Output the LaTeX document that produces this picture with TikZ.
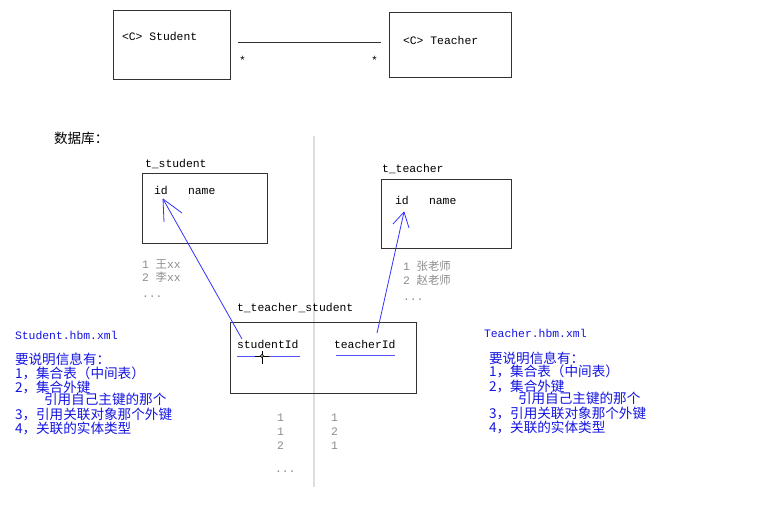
\documentclass[tikz,border=0pt]{standalone}
\usepackage{fontspec}
\usetikzlibrary{calc}
\setmainfont{Liberation Mono}
\newfontfamily\cjk{Noto Sans CJK SC}
\definecolor{boxgray}{RGB}{50,50,50}
\definecolor{sepgray}{RGB}{222,222,222}
\definecolor{rowgray}{RGB}{140,140,140}
\definecolor{arrowblue}{RGB}{50,50,255}
\definecolor{txtblue}{RGB}{20,20,225}
\begin{document}
\begin{tikzpicture}[x=1pt,y=-1pt,
  every node/.style={inner sep=0pt, outer sep=0pt, anchor=base west},
  lat/.style={font=\fontsize{11.4}{13}\selectfont},
  cjt/.style={font=\cjk\fontsize{13.6}{14}\selectfont},
  gry/.style={text=rowgray},
  blu/.style={text=txtblue},
  frame/.style={draw=boxgray, line width=0.9pt, anchor=north west},
  link/.style={draw=arrowblue, line width=0.8pt},
  uline/.style={draw=arrowblue!85, line width=1pt}]
\useasboundingbox (0,0) rectangle (783,509);

% ---- class diagram ----
\node[frame, minimum width=117pt, minimum height=69pt] (student) at (113,10) {};
\node[lat] (studentlbl) at (122,40) {<C> Student};
\node[frame, minimum width=122pt, minimum height=65pt] (teacher) at (389,12) {};
\node[lat] (teacherlbl) at (403,44) {<C> Teacher};
\coordinate (assocL) at ($(student.north east)+(8,32)$);
\coordinate (assocR) at ($(teacher.north west)+(-8,30)$);
\draw[boxgray, line width=0.9pt] (assocL) -- (assocR);
\node[lat] (starL) at (239,64) {*};
\node[lat] (starR) at (371,64) {*};

% ---- database ----
\node[cjt] (db) at (54,143) {数据库：};
\coordinate (sepTop) at (314,136);
\coordinate (sepBot) at (314,487);
\draw[sepgray, line width=2pt] (sepTop) -- (sepBot);

% t_student
\node[lat] (tstudentlbl) at (145,167) {t\_student};
\node[frame, minimum width=125pt, minimum height=70pt] (tstudent) at (142,173) {};
\node[lat] (sid) at (154,194) {id};
\node[lat] (sname) at (188,194) {name};
\node[lat, gry] (srow1) at (142,268) {1 {\cjk 王}xx};
\node[lat, gry] (srow2) at (142,281) {2 {\cjk 李}xx};
\node[lat, gry] (srow3) at (142,297) {...};

% t_teacher
\node[lat] (tteacherlbl) at (382,172) {t\_teacher};
\node[frame, minimum width=130pt, minimum height=69pt] (tteacher) at (381,179) {};
\node[lat] (tid) at (395,204) {id};
\node[lat] (tname) at (429,204) {name};
\node[lat, gry] (trow1) at (403,270) {1 {\cjk 张老师}};
\node[lat, gry] (trow2) at (403,284) {2 {\cjk 赵老师}};
\node[lat, gry] (trow3) at (403,300) {...};

% t_teacher_student
\node[lat] (tjoinlbl) at (237,311) {t\_teacher\_student};
\node[frame, minimum width=186pt, minimum height=71pt] (tjoin) at (230,322) {};
\node[lat] (jsid) at (237,348) {studentId};
\node[lat] (jtid) at (334,348) {teacherId};
\draw[uline] (237,356) -- (300,356);
\draw[uline] (336,355) -- (395,355);
% cursor mark
\coordinate (cur) at (262,356);
\draw[black, line width=0.8pt] ($(cur)+(-7,0)$) -- ($(cur)+(7,0)$);
\draw[black, line width=0.8pt] ($(cur)+(0,-5)$) -- ($(cur)+(0,8)$);
\draw[black, fill=white, line width=0.6pt] (cur) circle (1.6pt);

\node[lat, gry] (jl1) at (277,421) {1};
\node[lat, gry] (jl2) at (277,435) {1};
\node[lat, gry] (jl3) at (277,449) {2};
\node[lat, gry] (jl4) at (275,472) {...};
\node[lat, gry] (jr1) at (331,421) {1};
\node[lat, gry] (jr2) at (331,435) {2};
\node[lat, gry] (jr3) at (331,449) {1};

% arrows
\coordinate (a1start) at (242,339);
\coordinate (a1tip) at (163,199);
\draw[link] (a1start) -- (a1tip);
\draw[link] (a1tip) -- (182,213);
\draw[link] (a1tip) -- (164,222);
\coordinate (a2start) at (377,333);
\coordinate (a2tip) at (404,212);
\draw[link] (a2start) -- (a2tip);
\draw[link] (a2tip) -- (393,224);
\draw[link] (a2tip) -- (409,228);

% ---- mapping notes ----
\node[lat, blu] (sfile) at (15,339) {Student.hbm.xml};
\node[cjt, blu] (sn0) at (15,364) {要说明信息有：};
\node[cjt, blu] (sn1) at (15,378) {1，集合表（中间表）};
\node[cjt, blu] (sn2) at (15,392) {2，集合外键};
\node[cjt, blu] (sn3) at (44,404) {引用自己主键的那个};
\node[cjt, blu] (sn4) at (15,419) {3，引用关联对象那个外键};
\node[cjt, blu] (sn5) at (15,433) {4，关联的实体类型};

\node[lat, blu] (tfile) at (484,337) {Teacher.hbm.xml};
\node[cjt, blu] (tn0) at (489,363) {要说明信息有：};
\node[cjt, blu] (tn1) at (489,376) {1，集合表（中间表）};
\node[cjt, blu] (tn2) at (489,391) {2，集合外键};
\node[cjt, blu] (tn3) at (518,403) {引用自己主键的那个};
\node[cjt, blu] (tn4) at (489,418) {3，引用关联对象那个外键};
\node[cjt, blu] (tn5) at (489,432) {4，关联的实体类型};
\end{tikzpicture}
\end{document}
